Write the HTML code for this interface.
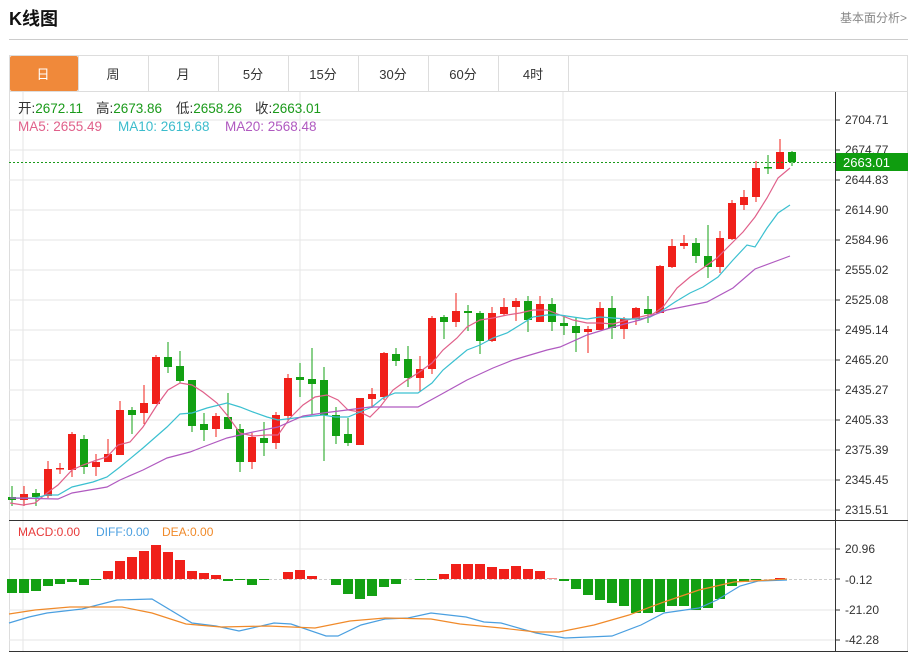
<!DOCTYPE html>
<html><head><meta charset="utf-8"><style>
body{margin:0;background:#fff;width:914px;height:654px;overflow:hidden;font-family:"Liberation Sans","Noto Sans CJK SC",sans-serif}
</style></head><body>
<svg width="914" height="654" xmlns="http://www.w3.org/2000/svg" font-family="Liberation Sans, Noto Sans CJK SC, sans-serif">
<text x="9" y="25" font-size="18" font-weight="bold" fill="#111">K线图</text>
<text x="840" y="22" font-size="12" fill="#888">基本面分析&gt;</text>
<line x1="9" y1="39.5" x2="908" y2="39.5" stroke="#ccc"/>
<rect x="9.5" y="55.5" width="898" height="596" fill="none" stroke="#ddd"/>
<line x1="9" y1="91.5" x2="908" y2="91.5" stroke="#ddd"/>
<rect x="10" y="56" width="68" height="35" fill="#f0893a" rx="2"/>
<g stroke="#ddd"><line x1="78.5" y1="56" x2="78.5" y2="91"/><line x1="148.5" y1="56" x2="148.5" y2="91"/><line x1="218.5" y1="56" x2="218.5" y2="91"/><line x1="288.5" y1="56" x2="288.5" y2="91"/><line x1="358.5" y1="56" x2="358.5" y2="91"/><line x1="428.5" y1="56" x2="428.5" y2="91"/><line x1="498.5" y1="56" x2="498.5" y2="91"/><line x1="568.5" y1="56" x2="568.5" y2="91"/></g>
<g font-size="13" text-anchor="middle" fill="#333"><text x="43" y="79" fill="#fff">日</text><text x="113" y="79">周</text><text x="183" y="79">月</text><text x="253" y="79">5分</text><text x="323" y="79">15分</text><text x="393" y="79">30分</text><text x="463" y="79">60分</text><text x="533" y="79">4时</text></g>
<g stroke="#e6e6e6"><line x1="9" y1="120" x2="835" y2="120"/><line x1="9" y1="150" x2="835" y2="150"/><line x1="9" y1="180" x2="835" y2="180"/><line x1="9" y1="210" x2="835" y2="210"/><line x1="9" y1="240" x2="835" y2="240"/><line x1="9" y1="270" x2="835" y2="270"/><line x1="9" y1="300" x2="835" y2="300"/><line x1="9" y1="330" x2="835" y2="330"/><line x1="9" y1="360" x2="835" y2="360"/><line x1="9" y1="390" x2="835" y2="390"/><line x1="9" y1="420" x2="835" y2="420"/><line x1="9" y1="450" x2="835" y2="450"/><line x1="9" y1="480" x2="835" y2="480"/><line x1="9" y1="510" x2="835" y2="510"/>
<line x1="9" y1="549" x2="835" y2="549"/><line x1="9" y1="610" x2="835" y2="610"/><line x1="9" y1="640" x2="835" y2="640"/>
<line x1="23" y1="92" x2="23" y2="652"/><line x1="300" y1="92" x2="300" y2="652"/><line x1="563" y1="92" x2="563" y2="652"/></g>
<line x1="9" y1="579.5" x2="835" y2="579.5" stroke="#ccc" stroke-dasharray="3,2"/>
<g font-size="13.5"><text x="18" y="113" fill="#333">开:<tspan fill="#1a9a1a">2672.11</tspan><tspan x="96">高:</tspan><tspan fill="#1a9a1a">2673.86</tspan><tspan x="176">低:</tspan><tspan fill="#1a9a1a">2658.26</tspan><tspan x="255">收:</tspan><tspan fill="#1a9a1a">2663.01</tspan></text>
<text x="18" y="131" fill="#e0608a">MA5: 2655.49<tspan fill="#3bbccc" x="118">MA10: 2619.68</tspan><tspan fill="#b05ac0" x="225">MA20: 2568.48</tspan></text></g>
<g font-size="12"><text x="18" y="536" fill="#e83a3a">MACD:0.00</text><text x="96" y="536" fill="#4a9fe0">DIFF:0.00</text><text x="162" y="536" fill="#f08a2a">DEA:0.00</text></g>
<g id="c"></g>
<g fill="none" stroke-width="1.2">
<polyline stroke="#e0608a" points="10,503 23,505 35,503 47,493 58,485 72,470 83,465 97,460 107,457 118,445 130,442 143,427 157,405 168,390 180,383 192,385 203,392 217,403 227,415 240,433 253,436 267,435 278,435 290,418 303,405 315,397 327,395 338,400 348,410 360,412 370,417 380,407 393,390 407,380 418,373 432,363 443,350 457,338 467,327 480,320 493,318 507,315 520,313 533,310 547,310 560,315 573,320 587,323 600,323 613,324 627,320 640,317 653,314 663,307 677,288 690,277 703,268 717,258 730,245 743,232 755,217 767,198 778,178 790,168"/>
<polyline stroke="#3bc0d0" points="10,498 35,498 47,495 58,495 72,487 93,482 107,477 120,467 143,448 167,427 180,414 192,413 207,408 227,403 240,407 253,412 267,417 278,420 303,417 323,415 335,417 348,417 360,412 372,407 383,398 395,393 418,393 432,383 443,370 455,360 467,350 480,345 493,338 507,333 520,325 533,317 547,315 560,315 573,317 587,319 600,317 613,318 627,319 640,319 650,317 660,312 675,302 690,293 703,287 718,277 733,260 747,245 755,247 767,228 778,213 790,205"/>
<polyline stroke="#b05ac0" points="10,498 58,499 72,493 107,487 120,480 143,470 167,458 190,452 203,447 227,438 253,432 278,427 303,416 323,413 347,410 370,407 393,407 418,407 440,395 467,380 493,368 513,360 547,350 560,347 587,335 613,327 640,320 667,310 687,306 707,302 733,288 755,269 790,256"/>
<polyline stroke="#4a9fe0" points="9,623 29,617 47,613 82,609 117,600 152,599 192,623 216,626 239,631 274,623 291,624 326,636 338,636 361,625 385,619 408,618 431,613 466,617 484,622 501,623 536,633 565,638 589,637 612,636 641,625 664,613 699,608 717,600 740,586 758,581 787,580"/>
<polyline stroke="#f08a2a" points="9,614 35,610 70,607 105,607 122,607 152,613 186,624 221,627 268,626 315,628 350,621 385,618 431,619 460,624 501,628 536,632 559,632 594,625 629,615 664,602 699,590 734,582 787,579"/>
</g>
<line x1="9" y1="162.5" x2="835" y2="162.5" stroke="#1a9a1a" stroke-dasharray="2,2"/>
<line x1="835.5" y1="92" x2="835.5" y2="652" stroke="#333"/>
<line x1="9" y1="520.5" x2="908" y2="520.5" stroke="#333"/>
<line x1="9" y1="651.5" x2="908" y2="651.5" stroke="#333"/>
<g font-size="12" fill="#333"><text x="845" y="124">2704.71</text><text x="845" y="154">2674.77</text><text x="845" y="184">2644.83</text><text x="845" y="214">2614.90</text><text x="845" y="244">2584.96</text><text x="845" y="274">2555.02</text><text x="845" y="304">2525.08</text><text x="845" y="334">2495.14</text><text x="845" y="364">2465.20</text><text x="845" y="394">2435.27</text><text x="845" y="424">2405.33</text><text x="845" y="454">2375.39</text><text x="845" y="484">2345.45</text><text x="845" y="514">2315.51</text>
<text x="845" y="553">20.96</text><text x="845" y="584">-0.12</text><text x="845" y="614">-21.20</text><text x="845" y="644">-42.28</text></g>
<g stroke="#333"><line x1="835" y1="120" x2="840" y2="120"/><line x1="835" y1="150" x2="840" y2="150"/><line x1="835" y1="180" x2="840" y2="180"/><line x1="835" y1="210" x2="840" y2="210"/><line x1="835" y1="240" x2="840" y2="240"/><line x1="835" y1="270" x2="840" y2="270"/><line x1="835" y1="300" x2="840" y2="300"/><line x1="835" y1="330" x2="840" y2="330"/><line x1="835" y1="360" x2="840" y2="360"/><line x1="835" y1="390" x2="840" y2="390"/><line x1="835" y1="420" x2="840" y2="420"/><line x1="835" y1="450" x2="840" y2="450"/><line x1="835" y1="480" x2="840" y2="480"/><line x1="835" y1="510" x2="840" y2="510"/><line x1="835" y1="549" x2="840" y2="549"/><line x1="835" y1="579" x2="840" y2="579"/><line x1="835" y1="610" x2="840" y2="610"/><line x1="835" y1="640" x2="840" y2="640"/></g>
<rect x="836" y="153" width="72" height="18" fill="#0f9d0f"/>
<text x="843" y="167" font-size="13" fill="#fff">2663.01</text>
</svg>
<script>
const C=[[1,497,500,486,506],[0,494,500,486,506],[1,493,497,489,506],[0,469,496,461,498],[0,468,469,463,474],[0,434,470,432,477],[1,439,467,435,474],[0,462,467,454,476],[0,454,462,439,462],[0,410,455,401,455],[1,410,415,407,434],[0,403,413,385,424],[0,357,404,355,404],[1,357,367,342,373],[1,366,381,351,383],[1,380,426,380,432],[1,424,430,413,441],[0,416,429,413,437],[1,417,429,393,429],[1,429,462,424,472],[0,437,462,433,469],[1,438,443,422,456],[0,415,443,412,449],[0,378,416,374,420],[1,377,380,363,397],
[1,379,384,348,415],[1,380,415,367,461],[1,415,436,407,444],[1,434,443,418,446],[0,398,445,398,445],[0,394,399,388,408],[0,353,397,352,400],[1,354,361,348,366],[1,359,378,346,387],[0,369,378,356,392],[0,318,369,316,374],[1,317,322,315,339],[0,311,322,293,327],[1,311,313,305,331],[1,313,341,311,354],[0,313,341,307,342],[0,307,314,298,316],[0,301,307,298,321],[1,301,320,296,332],[0,304,322,296,322],[1,304,322,298,331],[1,323,326,317,335],[1,326,333,318,352],
[0,329,332,326,353],[0,308,330,302,330],[1,308,328,296,339],[0,319,329,317,339],[0,308,319,307,325],[1,309,314,296,323],[0,266,313,265,313],[0,246,267,239,268],[0,243,246,235,249],[1,243,256,238,263],[1,256,267,225,278],[0,238,267,231,273],[0,203,239,200,240],[0,197,205,190,210],[0,168,197,161,202],[1,167,168,155,174],[0,152,169,139,169],[1,152,162,151,166]];
const M=[-14,-14,-12,-7,-5,-3,-6,-1,8,18,22,28,34,27,19,8,6,4,-2,-1,-6,-1,0,7,9,3,0,-6,-15,-20,-17,-8,-5,0,-1,-1,5,15,15,15,12,10,13,10,8,0.5,-2,-10,-16,-21,-24,-27,-34,-34,-33,-27,-27,-31,-29,-20,-7,-3,-1,0,1,0];
let s='';
C.forEach((c,i)=>{const x=12+12*i,col=c[0]?'#13a013':'#f0201a';const t=Math.min(c[1],c[2]),h=Math.max(1.5,Math.abs(c[2]-c[1]));
s+=`<line x1="${x}" y1="${c[3]}" x2="${x}" y2="${c[4]}" stroke="${col}"/><rect x="${x-4}" y="${t}" width="8" height="${h}" fill="${col}"/>`;});
M.forEach((m,i)=>{const x=12+12*i;if(Math.abs(m)<0.3)return;const col=m>0?'#f0201a':'#13a013';const y=m>0?579-m:579;
s+=`<rect x="${x-5}" y="${y}" width="10" height="${Math.abs(m)}" fill="${col}"/>`;});
document.getElementById('c').innerHTML=s;
</script>
</body></html>
